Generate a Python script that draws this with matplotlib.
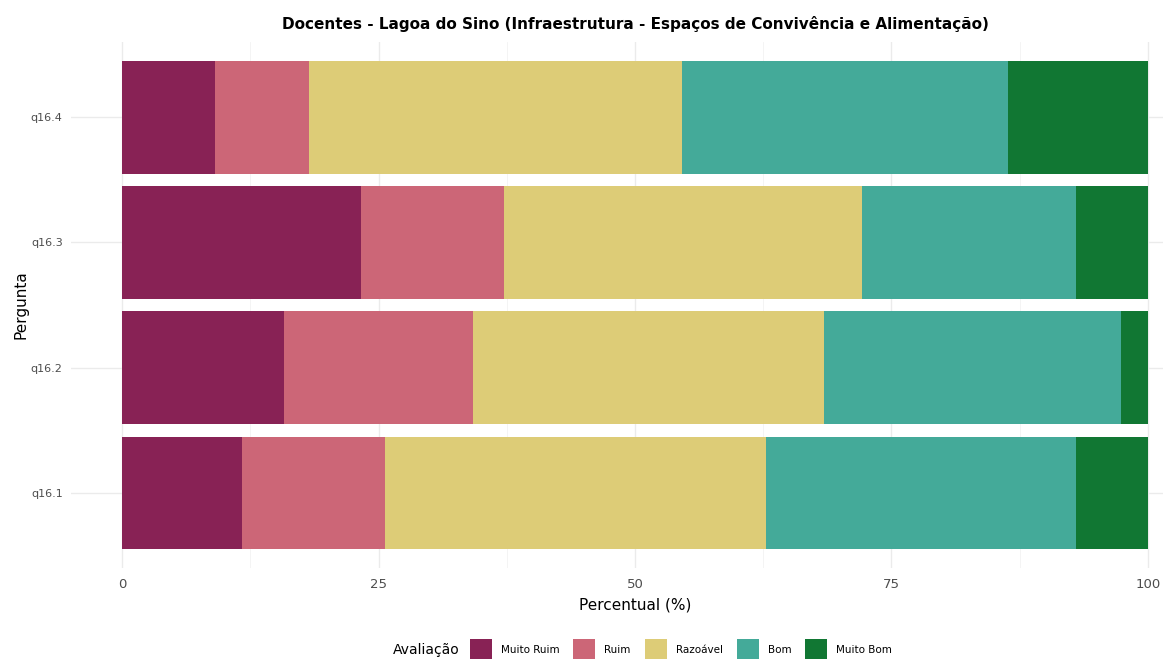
import matplotlib
matplotlib.use("Agg")
import matplotlib.pyplot as plt
from matplotlib.patches import Rectangle
import numpy as np

perguntas = ["q16.1", "q16.2", "q16.3", "q16.4"]
categorias = ["Muito Ruim", "Ruim", "Razoável", "Bom", "Muito Bom"]
muito_ruim = [11.63, 15.79, 23.26, 9.09]
ruim = [13.95, 18.42, 13.95, 9.09]
razoavel = [37.21, 34.21, 34.88, 36.36]
bom = [30.23, 28.95, 20.93, 31.82]
muito_bom = [6.98, 2.63, 6.98, 13.64]
cores = ["#882255", "#CC6677", "#DDCC77", "#44AA99", "#117733"]

series = [muito_ruim, ruim, razoavel, bom, muito_bom]

W, H = 1163, 659
fig = plt.figure(figsize=(W / 100, H / 100), dpi=100)
# panel extends past the right edge (reference is cropped there)
left, right = 71 / W, 1199 / W
top, bottom = 1 - 42 / H, 1 - 568 / H
ax = fig.add_axes([left, bottom, right - left, top - bottom])

y = np.arange(1, len(perguntas) + 1)
base = np.zeros(len(perguntas))
for vals, cor, cat in zip(series, cores, categorias):
    ax.barh(y, vals, left=base, height=0.9, color=cor, label=cat, zorder=2)
    base += np.array(vals)

ax.set_xlim(-5, 105)
ax.set_ylim(0.4, 4.6)
ax.set_yticks(y)
ax.set_yticklabels(perguntas)
ax.set_xticks([0, 25, 50, 75, 100])
ax.set_xticks([12.5, 37.5, 62.5, 87.5], minor=True)
ax.grid(which="major", color="#ebebeb", linewidth=1.0, zorder=0)
ax.grid(which="minor", axis="x", color="#f3f3f3", linewidth=0.6, zorder=0)
for s in ax.spines.values():
    s.set_visible(False)
ax.tick_params(which="both", length=0, colors="#4d4d4d")
ax.tick_params(axis="x", pad=7, labelsize=9.5)
ax.tick_params(axis="y", pad=6, labelsize=8)
ax.set_xlabel("Percentual (%)", fontsize=11, labelpad=5)
ax.set_ylabel("Pergunta", fontsize=11, labelpad=2)

fig.text(635 / W, 1 - 24 / H,
         "Docentes - Lagoa do Sino (Infraestrutura - Espaços de Convivência e Alimentação)",
         ha="center", va="center", fontsize=11, fontweight="bold")

# legend drawn manually (ggplot-like: title to the left of keys)
fig.canvas.draw()
renderer = fig.canvas.get_renderer()
ly = 1 - 650 / H
key = 22
t = fig.text(393 / W, ly, "Avaliação", ha="left", va="center", fontsize=10)
xpos = 393 + t.get_window_extent(renderer).width + 10
for cor, cat in zip(cores, categorias):
    fig.add_artist(Rectangle((xpos / W, ly - key / 2 / H), key / W, key / H,
                             transform=fig.transFigure, facecolor=cor, edgecolor="none"))
    tt = fig.text((xpos + key + 9) / W, ly, cat, ha="left", va="center", fontsize=7.5)
    xpos = xpos + key + 9 + tt.get_window_extent(renderer).width + 14

fig.savefig("out.png", dpi=100, facecolor="white")
